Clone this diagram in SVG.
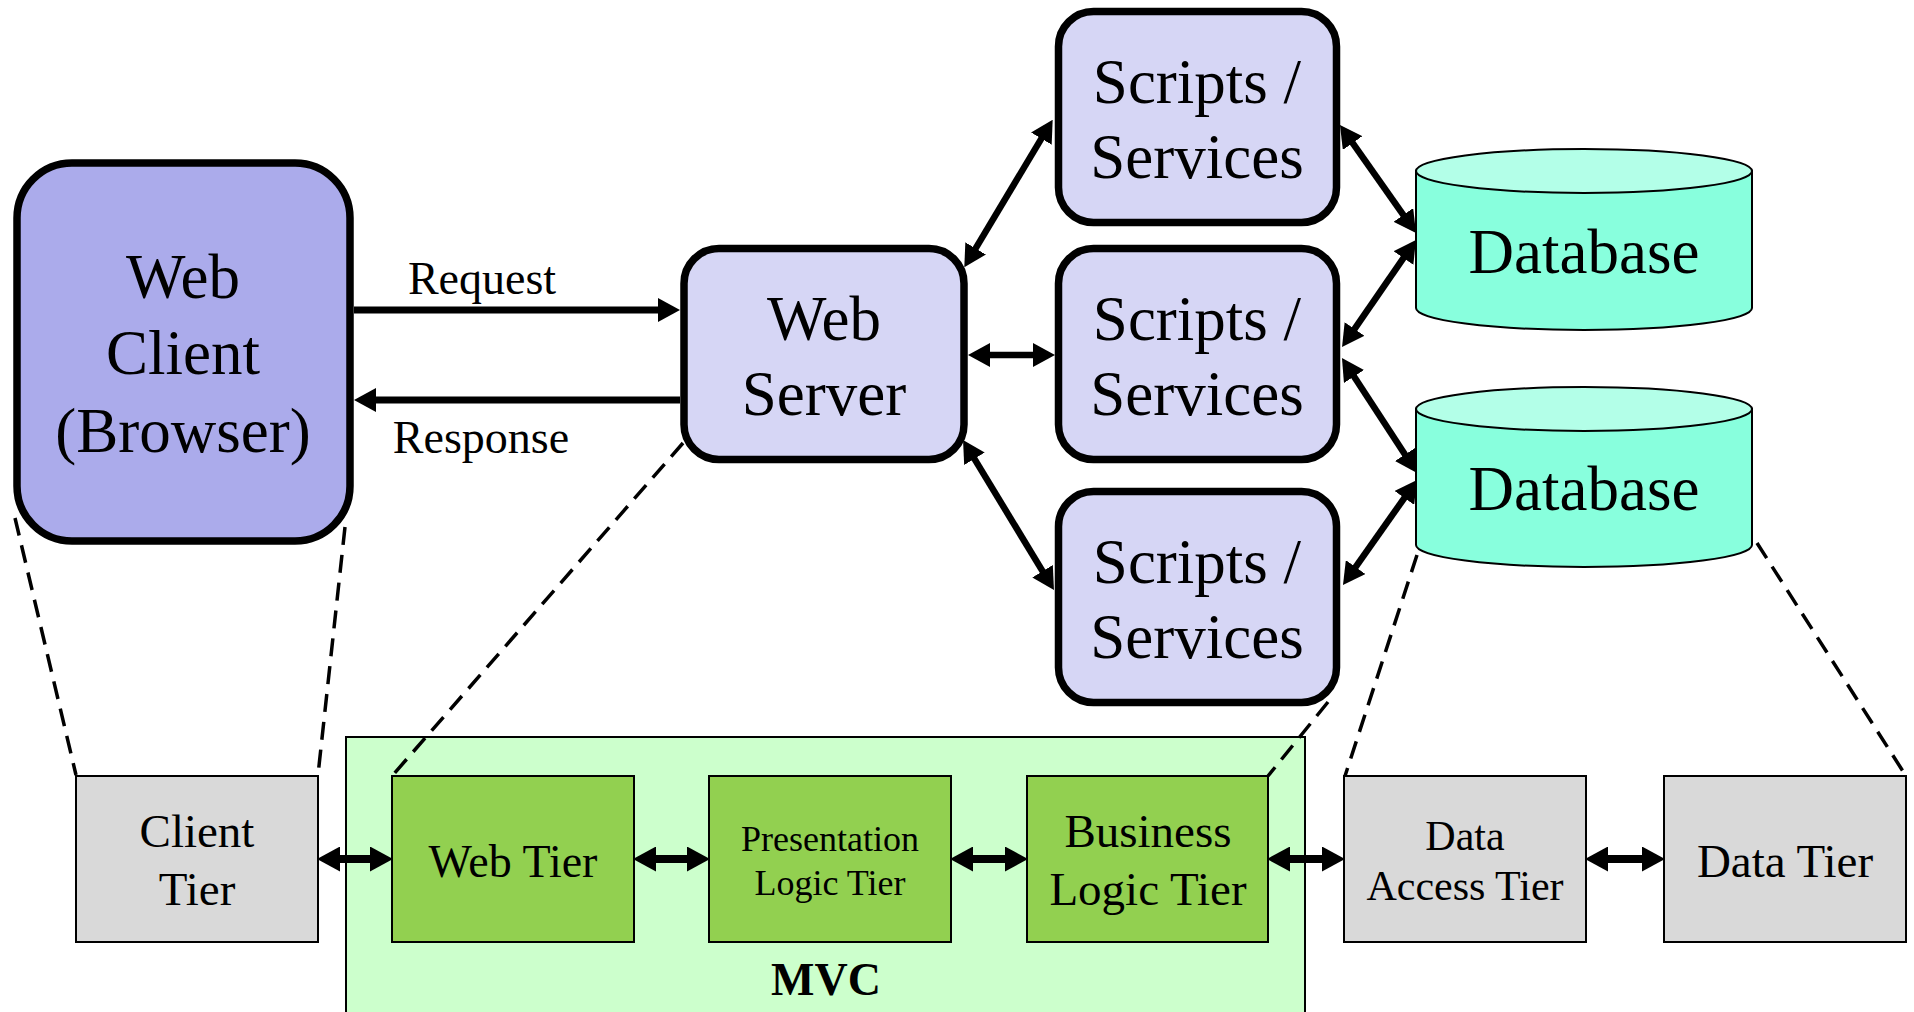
<svg xmlns="http://www.w3.org/2000/svg" width="1914" height="1012" viewBox="0 0 1914 1012">
<style>
text{font-family:"Liberation Serif","Times New Roman",serif;fill:#000;text-anchor:middle}
.big{font-size:63px}
.lbl{font-size:46px}
.t47{font-size:47px}
.t42{font-size:42px}
.t36{font-size:36px}
.mvc{font-size:46px;font-weight:bold}
.client{fill:#ABABEB;stroke:#000;stroke-width:7.5}
.srv{fill:#D6D6F5;stroke:#000;stroke-width:7.5}
.gray{fill:#D9D9D9;stroke:#000;stroke-width:2}
.green{fill:#92D050;stroke:#000;stroke-width:2}
.dbbody{fill:#88FFDD;stroke:#000;stroke-width:2}
.dbtop{fill:#B3FFE8;stroke:#000;stroke-width:2}
.arr{stroke:#000;stroke-width:7;fill:none}
.arr2{stroke:#000;stroke-width:6.5;fill:none}
.arr3{stroke:#000;stroke-width:8;fill:none}
.dash{stroke:#000;stroke-width:3.5;fill:none;stroke-dasharray:18 10}
</style>
<defs>
<marker id="ah" viewBox="0 -12 22 24" refX="2" refY="0" markerWidth="22" markerHeight="24" markerUnits="userSpaceOnUse" orient="auto-start-reverse">
<path d="M0,-12 L22,0 L0,12 z" fill="#000"/>
</marker>
<marker id="ahb" viewBox="0 -12.5 23 25" refX="2" refY="0" markerWidth="23" markerHeight="25" markerUnits="userSpaceOnUse" orient="auto-start-reverse">
<path d="M0,-12.5 L23,0 L0,12.5 z" fill="#000"/>
</marker>
</defs>
<rect width="1914" height="1012" fill="#fff"/>

<g id="web-client">
<rect class="client" x="17" y="163" width="333" height="378" rx="55" ry="55"/>
<text class="big" x="183" y="298">Web</text>
<text class="big" x="183" y="374">Client</text>
<text class="big" x="183" y="452">(Browser)</text>
</g>

<g id="web-server">
<rect class="srv" x="684" y="248.5" width="280" height="211" rx="35" ry="35"/>
<text class="big" x="824" y="340">Web</text>
<text class="big" x="824" y="415">Server</text>
</g>

<g id="scripts-1">
<rect class="srv" x="1058.5" y="11.5" width="278" height="211" rx="35" ry="35"/>
<text class="big" x="1197" y="103">Scripts /</text>
<text class="big" x="1197" y="178">Services</text>
</g>
<g id="scripts-2">
<rect class="srv" x="1058.5" y="248.5" width="278" height="211" rx="35" ry="35"/>
<text class="big" x="1197" y="340">Scripts /</text>
<text class="big" x="1197" y="415">Services</text>
</g>
<g id="scripts-3">
<rect class="srv" x="1058.5" y="491.5" width="278" height="211" rx="35" ry="35"/>
<text class="big" x="1197" y="583">Scripts /</text>
<text class="big" x="1197" y="658">Services</text>
</g>

<g id="database-1">
<path class="dbbody" d="M1416,171 L1416,308 A168,22 0 0,0 1752,308 L1752,171 Z"/>
<ellipse class="dbtop" cx="1584" cy="171" rx="168" ry="22"/>
<text class="big" x="1584" y="273">Database</text>
</g>
<g id="database-2">
<path class="dbbody" d="M1416,409 L1416,545 A168,22 0 0,0 1752,545 L1752,409 Z"/>
<ellipse class="dbtop" cx="1584" cy="409" rx="168" ry="22"/>
<text class="big" x="1584" y="510">Database</text>
</g>

<g id="mvc">
<rect x="346" y="737" width="959" height="290" fill="#CCFFCC" stroke="#000" stroke-width="2"/>
<text class="mvc" x="826" y="995">MVC</text>
</g>

<g id="client-tier">
<rect class="gray" x="76" y="776" width="242" height="166"/>
<text class="t47" x="197" y="847">Client</text>
<text class="t47" x="197" y="905">Tier</text>
</g>
<g id="web-tier">
<rect class="green" x="392" y="776" width="242" height="166"/>
<text class="lbl" x="513" y="877">Web Tier</text>
</g>
<g id="presentation-logic-tier">
<rect class="green" x="709" y="776" width="242" height="166"/>
<text class="t36" x="830" y="851">Presentation</text>
<text class="t36" x="830" y="895">Logic Tier</text>
</g>
<g id="business-logic-tier">
<rect class="green" x="1027" y="776" width="241" height="166"/>
<text class="t47" x="1148" y="847">Business</text>
<text class="t47" x="1148" y="905">Logic Tier</text>
</g>
<g id="data-access-tier">
<rect class="gray" x="1344" y="776" width="242" height="166"/>
<text class="t42" x="1465" y="850">Data</text>
<text class="t42" x="1465" y="900">Access Tier</text>
</g>
<g id="data-tier">
<rect class="gray" x="1664" y="776" width="242" height="166"/>
<text class="t47" x="1785" y="877">Data Tier</text>
</g>

<g id="connectors">
<line class="arr" x1="354" y1="310" x2="660" y2="310" marker-end="url(#ah)"/>
<text class="lbl" x="482" y="294">Request</text>
<line class="arr" x1="680" y1="400" x2="374" y2="400" marker-end="url(#ah)"/>
<text class="lbl" x="481" y="453">Response</text>

<line class="arr2" x1="974.6" y1="250.1" x2="1042.4" y2="136.9" marker-start="url(#ah)" marker-end="url(#ah)"/>
<line class="arr2" x1="988" y1="355" x2="1035" y2="355" marker-start="url(#ah)" marker-end="url(#ah)"/>
<line class="arr2" x1="973.4" y1="457.1" x2="1043.6" y2="572.9" marker-start="url(#ah)" marker-end="url(#ah)"/>

<line class="arr2" x1="1351.5" y1="141.4" x2="1404.5" y2="216.6" marker-start="url(#ah)" marker-end="url(#ah)"/>
<line class="arr2" x1="1353.4" y1="330.6" x2="1404.6" y2="256.4" marker-start="url(#ah)" marker-end="url(#ah)"/>
<line class="arr2" x1="1352.9" y1="374.8" x2="1406.1" y2="456.2" marker-start="url(#ah)" marker-end="url(#ah)"/>
<line class="arr2" x1="1354.5" y1="568.7" x2="1405.5" y2="496.3" marker-start="url(#ah)" marker-end="url(#ah)"/>

<line class="arr3" x1="338" y1="859" x2="372" y2="859" marker-start="url(#ahb)" marker-end="url(#ahb)"/>
<line class="arr3" x1="654" y1="859" x2="689" y2="859" marker-start="url(#ahb)" marker-end="url(#ahb)"/>
<line class="arr3" x1="971" y1="859" x2="1007" y2="859" marker-start="url(#ahb)" marker-end="url(#ahb)"/>
<line class="arr3" x1="1288" y1="859" x2="1324" y2="859" marker-start="url(#ahb)" marker-end="url(#ahb)"/>
<line class="arr3" x1="1606" y1="859" x2="1644" y2="859" marker-start="url(#ahb)" marker-end="url(#ahb)"/>

<line class="dash" x1="15" y1="518" x2="76" y2="775"/>
<line class="dash" x1="345" y1="527" x2="318" y2="775"/>
<line class="dash" x1="683" y1="443" x2="392" y2="776"/>
<line class="dash" x1="1328" y1="702" x2="1268" y2="776"/>
<line class="dash" x1="1417" y1="555" x2="1345" y2="776"/>
<line class="dash" x1="1757" y1="543" x2="1906" y2="776"/>
</g>
</svg>
